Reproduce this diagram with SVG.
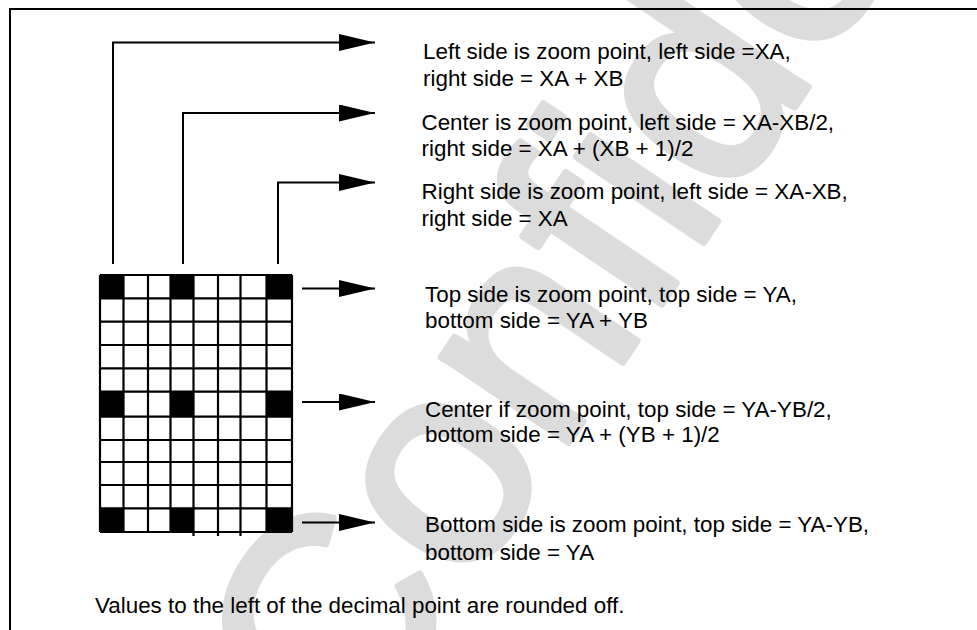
<svg xmlns="http://www.w3.org/2000/svg" width="977" height="630" viewBox="0 0 977 630">
  <style>
    .frame { fill: none; stroke: #000; stroke-width: 2; }
    .wm { font-family: "Liberation Sans", Arial, sans-serif; font-size: 290px; fill: #dcdcdc; stroke: #dcdcdc; stroke-width: 7; stroke-linejoin: round; }
    .lbl { font-family: "Liberation Sans", Arial, sans-serif; font-size: 22.4px; fill: #000; }
    .grid-line { stroke: #000; stroke-width: 2.2; fill: none; }
    .cell-on { fill: #000; }
    .conn { stroke: #000; stroke-width: 2; fill: none; marker-end: url(#ah); }
  </style>
  <defs>
    <marker id="ah" markerUnits="userSpaceOnUse" markerWidth="36" markerHeight="17" refX="36" refY="8.5" orient="auto">
      <path d="M0,0 L36,8.5 L0,17 Z" fill="#000"/>
    </marker>
  </defs>

  <rect width="977" height="630" fill="#fff"/>

  <!-- background watermark -->
  <text class="wm" transform="translate(322,622) rotate(-56) translate(-104,104)">Confidential</text>

  <!-- page frame: top rule and left rule -->
  <path class="frame" d="M10,630 V9 H977"/>

  <!-- pixel grid: 8 columns x 11 rows, zoom-point cells filled -->
  <g id="grid">
    <g class="cell-on">
      <rect x="100" y="275" width="23.5" height="23.3"/>
      <rect x="170.5" y="275" width="23" height="23.3"/>
      <rect x="266.5" y="275" width="25.5" height="23.3"/>
      <rect x="100" y="391.7" width="23.5" height="25"/>
      <rect x="170.5" y="391.7" width="23" height="25"/>
      <rect x="266.5" y="391.7" width="25.5" height="25"/>
      <rect x="100" y="508.3" width="23.5" height="23.7"/>
      <rect x="170.5" y="508.3" width="23" height="23.7"/>
      <rect x="266.5" y="508.3" width="25.5" height="23.7"/>
    </g>
    <path class="grid-line" d="
      M100,275 V532 M123.5,275 V532 M148,275 V532 M170.5,275 V532
      M193.5,275 V536 M218,275 V536 M240.5,275 V536 M266.5,275 V532 M292,275 V532
      M100,275 H292 M100,298.3 H292 M100,321.7 H292 M100,345 H292
      M100,368.3 H292 M100,391.7 H292 M100,416.7 H292 M100,440 H292
      M100,462 H292 M100,485 H292 M100,508.3 H292 M100,532 H292"/>
  </g>

  <!-- connectors -->
  <g id="connectors">
    <path class="conn" d="M113,264 V42.5 H375"/>
    <path class="conn" d="M183,264 V113 H375"/>
    <path class="conn" d="M278,264 V182.5 H375"/>
    <path class="conn" d="M302,288.5 H375"/>
    <path class="conn" d="M302,402 H375"/>
    <path class="conn" d="M302,522.5 H375"/>
  </g>

  <!-- horizontal zoom-point descriptions -->
  <g id="label-left">
    <text class="lbl" x="423" y="59">Left side is zoom point, left side =XA,</text>
    <text class="lbl" x="423" y="86">right side = XA + XB</text>
  </g>
  <g id="label-hcenter">
    <text class="lbl" x="421.5" y="129.5">Center is zoom point, left side = XA-XB/2,</text>
    <text class="lbl" x="421.5" y="156">right side = XA + (XB + 1)/2</text>
  </g>
  <g id="label-right">
    <text class="lbl" x="421.5" y="199">Right side is zoom point, left side = XA-XB,</text>
    <text class="lbl" x="421.5" y="225.7">right side = XA</text>
  </g>

  <!-- vertical zoom-point descriptions -->
  <g id="label-top">
    <text class="lbl" x="425" y="301.7">Top side is zoom point, top side = YA,</text>
    <text class="lbl" x="425" y="327.7">bottom side = YA + YB</text>
  </g>
  <g id="label-vcenter">
    <text class="lbl" x="425" y="416.7">Center if zoom point, top side = YA-YB/2,</text>
    <text class="lbl" x="425" y="442.3">bottom side = YA + (YB + 1)/2</text>
  </g>
  <g id="label-bottom">
    <text class="lbl" x="425" y="532.3">Bottom side is zoom point, top side = YA-YB,</text>
    <text class="lbl" x="425" y="560">bottom side = YA</text>
  </g>

  <g id="note">
    <text class="lbl" x="95" y="613.3">Values to the left of the decimal point are rounded off.</text>
  </g>
</svg>
